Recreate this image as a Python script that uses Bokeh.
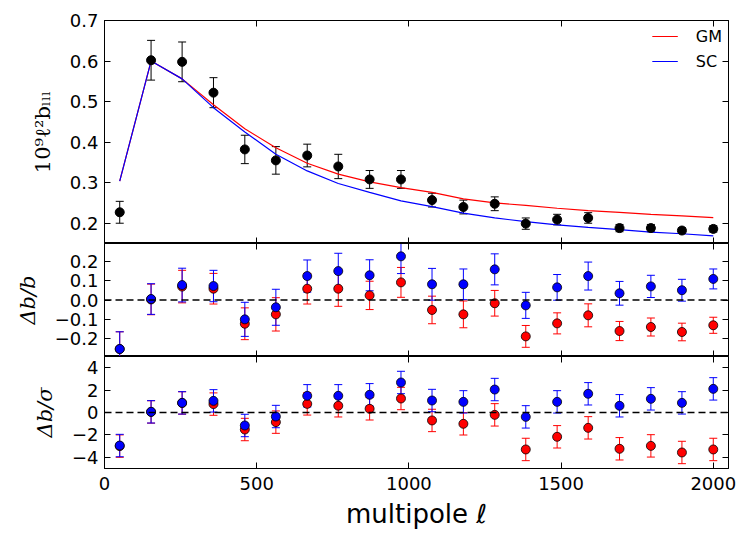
from bokeh.plotting import figure
from bokeh.layouts import column
from bokeh.models import (Range1d, LinearAxis, FixedTicker, CustomJSTickFormatter,
                          Whisker, TeeHead, ColumnDataSource, Span)
from bokeh.embed import file_html
from bokeh.resources import INLINE

# ---------------- data ----------------
ell = [50, 153, 255, 358, 461, 563, 666, 768, 871, 974,
       1076, 1179, 1282, 1384, 1487, 1589, 1692, 1795, 1897, 2000]

b_data = [0.227, 0.602, 0.598, 0.522, 0.382, 0.355, 0.367, 0.340, 0.308, 0.308,
          0.257, 0.240, 0.248, 0.199, 0.209, 0.213, 0.188, 0.188, 0.182, 0.186]
b_err = [0.027, 0.049, 0.049, 0.037, 0.035, 0.034, 0.028, 0.030, 0.022, 0.022,
         0.017, 0.017, 0.017, 0.014, 0.013, 0.013, 0.009, 0.009, 0.007, 0.008]

gm_model = [0.304, 0.600, 0.556, 0.492, 0.433, 0.386, 0.348, 0.321, 0.302, 0.288,
            0.276, 0.260, 0.250, 0.244, 0.237, 0.231, 0.227, 0.222, 0.218, 0.214]
sc_model = [0.304, 0.600, 0.556, 0.485, 0.425, 0.370, 0.329, 0.298, 0.276, 0.255,
            0.241, 0.225, 0.213, 0.204, 0.196, 0.190, 0.184, 0.178, 0.174, 0.169]

gm_rel = [-0.256, 0.003, 0.070, 0.059, -0.124, -0.075, 0.059, 0.059, 0.024, 0.092,
          -0.052, -0.075, -0.017, -0.190, -0.122, -0.080, -0.162, -0.141, -0.167, -0.132]
gm_rel_err = [0.090, 0.080, 0.085, 0.080, 0.083, 0.087, 0.080, 0.092, 0.074, 0.078,
              0.072, 0.070, 0.067, 0.057, 0.055, 0.060, 0.050, 0.047, 0.046, 0.042]
sc_rel = [-0.256, 0.005, 0.078, 0.073, -0.101, -0.038, 0.125, 0.151, 0.129, 0.228,
          0.082, 0.082, 0.160, -0.028, 0.066, 0.125, 0.035, 0.071, 0.051, 0.110]
sc_rel_err = [0.090, 0.080, 0.088, 0.082, 0.089, 0.094, 0.084, 0.093, 0.081, 0.090,
              0.083, 0.080, 0.081, 0.068, 0.067, 0.073, 0.062, 0.058, 0.057, 0.052]

gm_sig = [-3.00, 0.05, 0.85, 0.75, -1.52, -0.86, 0.77, 0.60, 0.33, 1.25,
          -0.71, -1.01, -0.21, -3.30, -2.17, -1.37, -3.24, -2.98, -3.57, -3.30]
sc_sig = [-2.95, 0.06, 0.86, 1.04, -1.16, -0.36, 1.49, 1.49, 1.58, 2.68,
          1.07, 0.95, 2.05, -0.39, 0.95, 1.67, 0.60, 1.22, 0.86, 2.11]
sig_err = [1.0] * 20

x_ticks = [0, 500, 1000, 1500, 2000]
top_ticks = [0.2, 0.3, 0.4, 0.5, 0.6, 0.7]
mid_ticks = [-0.2, -0.1, 0.0, 0.1, 0.2]
bot_ticks = [-4, -2, 0, 2, 4]

# ---------------- helpers ----------------
FONT = "DejaVu Sans"
W = 743
xr = Range1d(0, 2050)


def fmt(dec):
    return CustomJSTickFormatter(
        code="return (tick < -1e-9 ? '\u2212' : '') + Math.abs(tick).toFixed(%d);" % dec)


def style_axis(ax, ticks, labels, dec=0):
    ax.ticker = FixedTicker(ticks=ticks)
    ax.major_tick_in = 6
    ax.major_tick_out = 0
    ax.minor_tick_in = 0
    ax.minor_tick_out = 0
    ax.axis_line_color = "black"
    ax.axis_line_width = 1
    ax.major_tick_line_color = "black"
    ax.major_tick_line_width = 1
    ax.axis_label_text_color = "black"
    if labels:
        ax.formatter = fmt(dec)
        ax.major_label_text_font = FONT
        ax.major_label_text_font_size = "18px"
        ax.major_label_text_color = "black"
        ax.major_label_standoff = 6
    else:
        ax.major_label_text_font_size = "0px"
        ax.major_label_standoff = 0
        ax.major_label_text_alpha = 0


def make_fig(height, yr, ticks, dec, ylabel, ystyle, btop, bbot, xlabels=False):
    p = figure(width=W, height=height, x_range=xr, y_range=yr,
               output_backend="svg", toolbar_location=None,
               x_axis_location=None, y_axis_location=None,
               min_border_left=104, min_border_right=15,
               min_border_top=btop, min_border_bottom=bbot)
    p.xgrid.visible = False
    p.ygrid.visible = False
    p.outline_line_color = "black"
    p.outline_line_width = 1
    p.background_fill_color = "white"
    p.border_fill_color = "white"

    left = LinearAxis()
    style_axis(left, ticks, True, dec)
    left.axis_label = ylabel
    left.axis_label_text_font = "DejaVu Serif"
    left.axis_label_text_font_style = ystyle
    left.axis_label_text_font_size = "21px"
    left.axis_label_standoff = 12
    p.add_layout(left, "left")

    right = LinearAxis()
    style_axis(right, ticks, False)
    p.add_layout(right, "right")

    above = LinearAxis()
    style_axis(above, x_ticks, False)
    p.add_layout(above, "above")

    below = LinearAxis()
    style_axis(below, x_ticks, xlabels, 0)
    if xlabels:
        below.major_label_standoff = 8
        below.axis_label = "multipole \u2113"
        below.axis_label_text_font = FONT
        below.axis_label_text_font_style = "normal"
        below.axis_label_text_font_size = "26px"
        below.axis_label_standoff = 6
    p.add_layout(below, "below")
    return p


def errbars(p, x, y, err, color, cap=8):
    src = ColumnDataSource(dict(x=x,
                                upper=[v + e for v, e in zip(y, err)],
                                lower=[v - e for v, e in zip(y, err)]))
    w = Whisker(source=src, base="x", upper="upper", lower="lower",
                line_color=color, line_width=1,
                upper_head=TeeHead(size=cap, line_color=color, line_width=1),
                lower_head=TeeHead(size=cap, line_color=color, line_width=1),
                level="underlay")
    p.add_layout(w)


# ---------------- top panel ----------------
p1 = make_fig(243, Range1d(0.15, 0.7), top_ticks, 1,
              "10\u2079\u2113\u00b2b\u2097\u2097\u2097", "normal", 20, 0)
p1.line(ell, gm_model, line_color="#ff0000", line_width=1.2, legend_label="GM")
p1.line(ell, sc_model, line_color="#0000ff", line_width=1.2, legend_label="SC")
errbars(p1, ell, b_data, b_err, "black")
p1.scatter(ell, b_data, marker="circle", size=9, fill_color="black", line_color="black")

lg = p1.legend[0]
lg.location = "top_right"
lg.border_line_color = None
lg.background_fill_alpha = 0
lg.label_text_font = FONT
lg.label_text_font_size = "16px"
lg.label_text_color = "black"
lg.glyph_width = 26
lg.label_standoff = 18
lg.spacing = 5
lg.padding = 6
lg.margin = 6

# ---------------- middle panel ----------------
p2 = make_fig(113, Range1d(-0.295, 0.295), mid_ticks, 1, "\u0394b/b", "italic", 0, 0)
p2.add_layout(Span(location=0, dimension="width", line_color="black",
                   line_dash="7 4", line_width=1.3))
errbars(p2, ell, gm_rel, gm_rel_err, "#ff0000")
errbars(p2, ell, sc_rel, sc_rel_err, "#0000ff")
p2.scatter(ell, gm_rel, marker="circle", size=9, fill_color="#ff0000", line_color="black", line_width=0.8)
p2.scatter(ell, sc_rel, marker="circle", size=9, fill_color="#0000ff", line_color="black", line_width=0.8)

# ---------------- bottom panel ----------------
p3 = make_fig(178, Range1d(-5, 5), bot_ticks, 0, "\u0394b/\u03c3", "italic", 0, 66, xlabels=True)
p3.add_layout(Span(location=0, dimension="width", line_color="black",
                   line_dash="7 4", line_width=1.3))
errbars(p3, ell, gm_sig, sig_err, "#ff0000")
errbars(p3, ell, sc_sig, sig_err, "#0000ff")
p3.scatter(ell, gm_sig, marker="circle", size=9, fill_color="#ff0000", line_color="black", line_width=0.8)
p3.scatter(ell, sc_sig, marker="circle", size=9, fill_color="#0000ff", line_color="black", line_width=0.8)

layout = column(p1, p2, p3, spacing=0)
open("out.html", "w").write(file_html(layout, INLINE))
